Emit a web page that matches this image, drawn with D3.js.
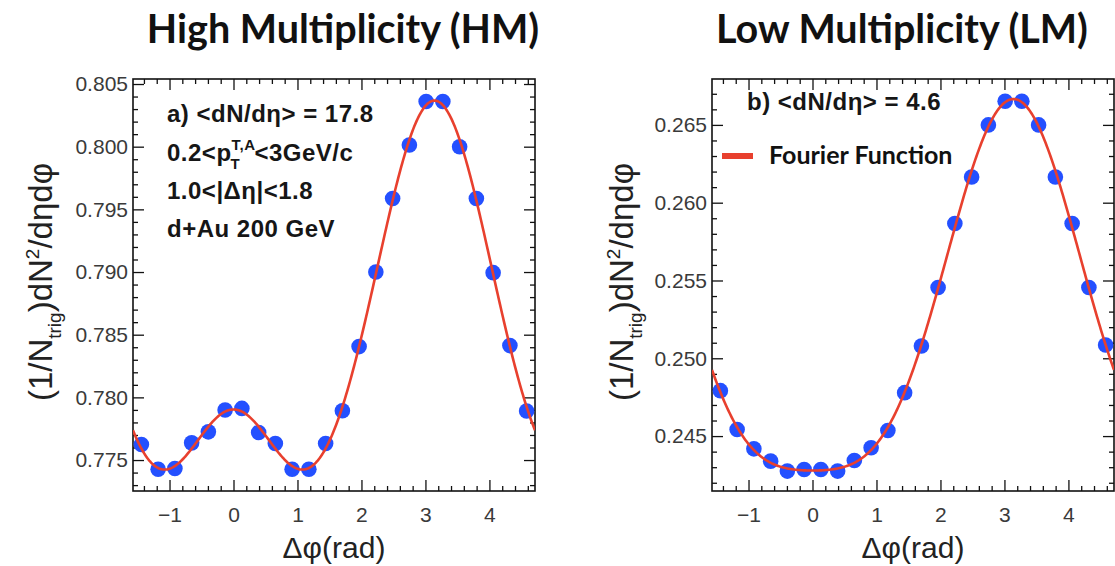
<!DOCTYPE html>
<html>
<head>
<meta charset="utf-8">
<script src="https://cdn.jsdelivr.net/npm/d3@7"></script>
<style>
  body { margin: 0; background: #fff; }
  svg { display: block; }
  text { font-family: "Liberation Sans", Arial, Helvetica, sans-serif; }
</style>
</head>
<body>
<svg id="chart" width="1115" height="566"></svg>
<script>
// Δφ bin centres (rad), 24 bins over [-π/2, 3π/2]
const dphi = [-1.440, -1.178, -0.916, -0.654, -0.393, -0.131, 0.131, 0.393,
              0.654, 0.916, 1.178, 1.440, 1.702, 1.963, 2.225, 2.487,
              2.749, 3.011, 3.272, 3.534, 3.796, 4.058, 4.320, 4.581];

// per-trigger pair yields, high multiplicity
const hmValues = [0.77624, 0.77427, 0.77432, 0.77637, 0.77725, 0.77899, 0.77912, 0.77720,
                  0.77632, 0.77427, 0.77427, 0.77632, 0.77893, 0.78405, 0.79000, 0.79587,
                  0.80013, 0.80360, 0.80360, 0.80000, 0.79587, 0.78995, 0.78413, 0.77891];

// per-trigger pair yields, low multiplicity
const lmValues = [0.24792, 0.24542, 0.24418, 0.24339, 0.24275, 0.24285, 0.24285, 0.24275,
                  0.24343, 0.24425, 0.24536, 0.24779, 0.25079, 0.25455, 0.25866, 0.26165,
                  0.26500, 0.26652, 0.26652, 0.26500, 0.26165, 0.25866, 0.25455, 0.25085];

const xTicks = [-1, 0, 1, 2, 3, 4];
const hmYTicks = [0.775, 0.780, 0.785, 0.790, 0.795, 0.800, 0.805];
const lmYTicks = [0.245, 0.250, 0.255, 0.260, 0.265];
const hmYDomain = [0.77253, 0.80540];
const lmYDomain = [0.24147, 0.26795];

const panelTitles = ["High Multiplicity (HM)", "Low Multiplicity (LM)"];
const hmNotes = ["a) <dN/dη> = 17.8", "1.0<|Δη|<1.8", "d+Au 200 GeV"];
const lmNote = "b) <dN/dη> = 4.6";
const legendLabel = "Fourier Function";
const xTitle = "Δφ(rad)";

const pointColor = "#2450ff";
const fitColor = "#e8402e";
const fitOrder = 4;

// least-squares Fourier fit: a0 + Σ a_n cos(nφ)
function fourierFit(xs, ys, order) {
  const basis = x => d3.range(order + 1).map(n => Math.cos(n * x));
  const m = order + 1;
  const A = d3.range(m).map(() => new Array(m).fill(0));
  const b = new Array(m).fill(0);
  xs.forEach((x, i) => {
    const f = basis(x);
    for (let r = 0; r < m; r++) {
      b[r] += f[r] * ys[i];
      for (let c = 0; c < m; c++) A[r][c] += f[r] * f[c];
    }
  });
  for (let p = 0; p < m; p++) {
    let best = p;
    for (let r = p + 1; r < m; r++) if (Math.abs(A[r][p]) > Math.abs(A[best][p])) best = r;
    [A[p], A[best]] = [A[best], A[p]];
    [b[p], b[best]] = [b[best], b[p]];
    for (let r = p + 1; r < m; r++) {
      const k = A[r][p] / A[p][p];
      for (let c = p; c < m; c++) A[r][c] -= k * A[p][c];
      b[r] -= k * b[p];
    }
  }
  const coef = new Array(m).fill(0);
  for (let r = m - 1; r >= 0; r--) {
    let s = b[r];
    for (let c = r + 1; c < m; c++) s -= A[r][c] * coef[c];
    coef[r] = s / A[r][r];
  }
  return x => d3.sum(basis(x), (f, n) => f * coef[n]);
}

const svg = d3.select("#chart");
svg.append("rect").attr("width", 1115).attr("height", 566).attr("fill", "#fff");

function drawPanel(cfg) {
  const { id, left, right, top, bottom, values, yDomain, yTicks } = cfg;
  const x = d3.scaleLinear().domain([-Math.PI / 2, 3 * Math.PI / 2]).range([left, right]);
  const y = d3.scaleLinear().domain(yDomain).range([bottom, top]);
  const g = svg.append("g");

  const minorX = d3.range(-14, 47, 2).map(v => v / 10).filter(v => !Number.isInteger(v));
  const lo = Math.ceil(yDomain[0] * 1000), hi = Math.floor(yDomain[1] * 1000);
  const minorY = d3.range(lo, hi + 1).map(v => v / 1000)
    .filter(v => !yTicks.some(t => Math.abs(t - v) < 1e-7));

  const styleAxis = sel => {
    sel.select(".domain").remove();
    sel.selectAll(".tick line").attr("stroke", "#111").attr("stroke-width", 1.3);
  };

  // bottom axis with labels
  g.append("g").attr("transform", `translate(0,${bottom})`)
    .call(d3.axisBottom(x).tickValues(xTicks).tickSize(-11).tickSizeOuter(0)
      .tickPadding(16).tickFormat(d => d < 0 ? "\u2212" + Math.abs(d) : d))
    .call(styleAxis)
    .call(s => s.selectAll("text").attr("font-size", 21).attr("fill", "#3a3a3a"));
  g.append("g").attr("transform", `translate(0,${bottom})`)
    .call(d3.axisBottom(x).tickValues(minorX).tickSize(-5).tickFormat(""))
    .call(styleAxis);
  // top axis, ticks only
  g.append("g").attr("transform", `translate(0,${top})`)
    .call(d3.axisTop(x).tickValues(xTicks).tickSize(-11).tickFormat(""))
    .call(styleAxis);
  g.append("g").attr("transform", `translate(0,${top})`)
    .call(d3.axisTop(x).tickValues(minorX).tickSize(-5).tickFormat(""))
    .call(styleAxis);
  // left axis with labels
  g.append("g").attr("transform", `translate(${left},0)`)
    .call(d3.axisLeft(y).tickValues(yTicks).tickSize(-11).tickPadding(4)
      .tickFormat(d3.format(".3f")))
    .call(styleAxis)
    .call(s => s.selectAll("text").attr("font-size", 21).attr("fill", "#3a3a3a")
      .attr("x", -5));
  g.append("g").attr("transform", `translate(${left},0)`)
    .call(d3.axisLeft(y).tickValues(minorY).tickSize(-5).tickFormat(""))
    .call(styleAxis);
  // right axis, ticks only
  g.append("g").attr("transform", `translate(${right},0)`)
    .call(d3.axisRight(y).tickValues(yTicks).tickSize(-11).tickFormat(""))
    .call(styleAxis);
  g.append("g").attr("transform", `translate(${right},0)`)
    .call(d3.axisRight(y).tickValues(minorY).tickSize(-5).tickFormat(""))
    .call(styleAxis);

  // frame
  g.append("rect").attr("x", left).attr("y", top)
    .attr("width", right - left).attr("height", bottom - top)
    .attr("fill", "none").attr("stroke", "#111").attr("stroke-width", 1.6);

  // clip to frame
  svg.append("clipPath").attr("id", "clip-" + id)
    .append("rect").attr("x", left).attr("y", top)
    .attr("width", right - left).attr("height", bottom - top);
  const plot = g.append("g").attr("clip-path", `url(#clip-${id})`);

  // data points
  plot.selectAll("circle").data(dphi).join("circle")
    .attr("cx", d => x(d))
    .attr("cy", (d, i) => y(values[i]))
    .attr("r", 7.8)
    .attr("fill", pointColor);

  // Fourier fit curve
  const fit = fourierFit(dphi, values, fitOrder);
  const samples = d3.range(0, 401).map(i => -Math.PI / 2 + i * (2 * Math.PI) / 400);
  plot.append("path")
    .datum(samples)
    .attr("fill", "none")
    .attr("stroke", fitColor)
    .attr("stroke-width", 2.6)
    .attr("d", d3.line().x(d => x(d)).y(d => y(fit(d))));

  // x axis title
  g.append("text")
    .attr("x", (left + right) / 2).attr("y", 558)
    .attr("text-anchor", "middle").attr("font-size", 30).attr("fill", "#222")
    .text(xTitle);

  // y axis title
  const yt = g.append("text")
    .attr("transform", `translate(${cfg.yTitleX},282) rotate(-90)`)
    .attr("text-anchor", "middle").attr("font-size", 33).attr("fill", "#222");
  yt.append("tspan").text("(1/N");
  yt.append("tspan").attr("dy", 9).attr("font-size", 19).text("trig");
  yt.append("tspan").attr("dy", -9).text(")dN");
  yt.append("tspan").attr("dy", -13).attr("font-size", 19).text("2");
  yt.append("tspan").attr("dy", 13).text("/dηdφ");

  // panel title
  svg.append("text")
    .attr("x", cfg.titleX).attr("y", 43)
    .attr("text-anchor", "middle")
    .style("font-family", "Lato, 'Open Sans', sans-serif")
    .attr("font-weight", 700).attr("font-size", 39.5).attr("fill", "#111")
    .text(cfg.title);

  return { g, x, y };
}

const hm = drawPanel({
  id: "hm", left: 133, right: 535, top: 79, bottom: 491,
  values: hmValues, yDomain: hmYDomain, yTicks: hmYTicks,
  yTitleX: 52, title: panelTitles[0], titleX: 343
});

const lm = drawPanel({
  id: "lm", left: 712, right: 1114, top: 79, bottom: 491,
  values: lmValues, yDomain: lmYDomain, yTicks: lmYTicks,
  yTitleX: 633, title: panelTitles[1], titleX: 902
});

// annotations, high multiplicity panel
const noteStyle = t => t.attr("font-size", 24).attr("font-weight", 700)
  .attr("letter-spacing", 0.5).attr("fill", "#161616");
hm.g.append("text").attr("x", 167).attr("y", 122).call(noteStyle).text(hmNotes[0]);
{
  const t = hm.g.append("text").attr("x", 167).attr("y", 161).call(noteStyle);
  t.append("tspan").text("0.2<p");
  const sup = t.append("tspan").attr("dy", -11).attr("font-size", 15).text("T,A");
  const supW = sup.node().getComputedTextLength();
  const sub = t.append("tspan").attr("dx", -supW).attr("dy", 19).attr("font-size", 15).text("T");
  const subW = sub.node().getComputedTextLength();
  t.append("tspan").attr("dx", supW - subW).attr("dy", -8).text("<3GeV/c");
}
hm.g.append("text").attr("x", 167).attr("y", 199).call(noteStyle).text(hmNotes[1]);
hm.g.append("text").attr("x", 167).attr("y", 237).call(noteStyle).text(hmNotes[2]);

// annotation and legend, low multiplicity panel
lm.g.append("text").attr("x", 747).attr("y", 110).call(noteStyle).text(lmNote);
lm.g.append("line").attr("x1", 722).attr("x2", 753).attr("y1", 156).attr("y2", 156)
  .attr("stroke", fitColor).attr("stroke-width", 6);
lm.g.append("text").attr("x", 769).attr("y", 164)
  .style("font-family", "Lato, 'Open Sans', sans-serif")
  .attr("font-weight", 700).attr("font-size", 25).attr("fill", "#111")
  .text(legendLabel);
</script>
</body>
</html>
